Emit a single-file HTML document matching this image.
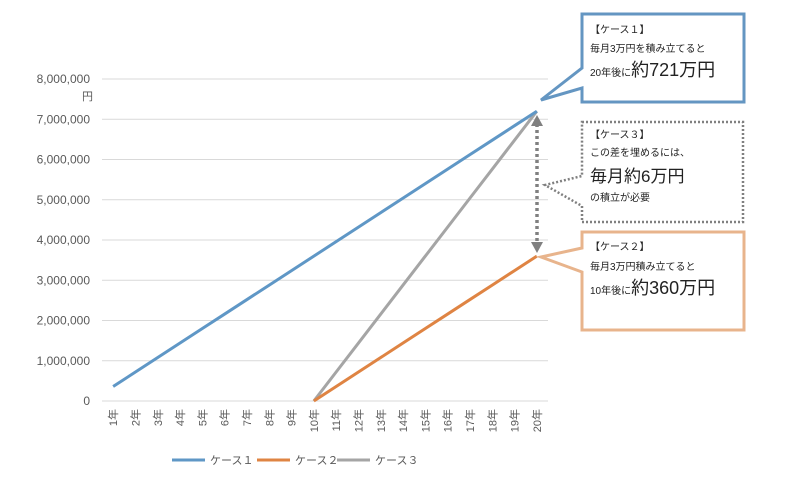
<!DOCTYPE html>
<html><head><meta charset="utf-8"><style>
body{margin:0;background:#fff;font-family:"Liberation Sans","Noto Sans CJK JP",sans-serif;}
svg text{font-family:"Liberation Sans","Noto Sans CJK JP",sans-serif;}
</style></head><body>
<svg id="chart" width="800" height="496" viewBox="0 0 800 496">
<g id="grid"></g>
<g id="yax"></g>
<g id="xax"></g>
<g id="series"></g>
<text x="93" y="100" font-size="11" fill="#595959" text-anchor="end">円</text>

<!-- dotted arrow -->
<g>
<line x1="537" y1="124" x2="537" y2="244" stroke="#808080" stroke-width="3.5" stroke-dasharray="3,3"/>
<polygon points="531,126 543,126 537,115" fill="#808080"/>
<polygon points="531,242 543,242 537,253" fill="#808080"/>
</g>

<!-- callout 1 -->
<g>
<path d="M582,14 H744 V102 H582 V88 L541,100 L582,68 Z" fill="#fff" stroke="#6496c2" stroke-width="3"/>
<text x="590" y="33" font-size="10" fill="#222">【ケース１】</text>
<text x="590" y="52" font-size="10" fill="#222">毎月3万円を積み立てると</text>
<text x="590" y="76" font-size="10" fill="#222">20年後に<tspan font-size="18">約721万円</tspan></text>
</g>
<!-- callout 3 -->
<g>
<path d="M582,122 H743 V222 H582 V206 L545,185 L582,176 Z" fill="#fff" stroke="#808080" stroke-width="2.5" stroke-dasharray="2,2"/>
<text x="590" y="138" font-size="10" fill="#222">【ケース３】</text>
<text x="590" y="156" font-size="10" fill="#222">この差を埋めるには、</text>
<text x="590" y="182" font-size="17" fill="#222">毎月約6万円</text>
<text x="590" y="201" font-size="10" fill="#222">の積立が必要</text>
</g>
<!-- callout 2 -->
<g>
<path d="M582,232 H744 V330 H582 V272 L541,257 L582,248 Z" fill="#fff" stroke="#e8b48c" stroke-width="3"/>
<text x="590" y="250" font-size="10" fill="#222">【ケース２】</text>
<text x="590" y="270" font-size="10" fill="#222">毎月3万円積み立てると</text>
<text x="590" y="294" font-size="10" fill="#222">10年後に<tspan font-size="18">約360万円</tspan></text>
</g>

<!-- legend -->
<g>
<g><line x1="172" y1="460" x2="205" y2="460" stroke="#5f97c6" stroke-width="3"/><text x="210" y="464" font-size="11" fill="#595959">ケース１</text></g>
<g><line x1="257" y1="460" x2="290" y2="460" stroke="#df8443" stroke-width="3"/><text x="295" y="464" font-size="11" fill="#595959">ケース２</text></g>
<g><line x1="337" y1="460" x2="370" y2="460" stroke="#a5a5a5" stroke-width="3"/><text x="375" y="464" font-size="11" fill="#595959">ケース３</text></g>
</g>
</svg>
<script>
const categories=["1年","2年","3年","4年","5年","6年","7年","8年","9年","10年","11年","12年","13年","14年","15年","16年","17年","18年","19年","20年"];
const case1=[360000,720000,1080000,1440000,1800000,2160000,2520000,2880000,3240000,3600000,3960000,4320000,4680000,5040000,5400000,5760000,6120000,6480000,6840000,7200000];
const case2=[null,null,null,null,null,null,null,null,null,0,360000,720000,1080000,1440000,1800000,2160000,2520000,2880000,3240000,3600000];
const case3=[null,null,null,null,null,null,null,null,null,0,720000,1440000,2160000,2880000,3600000,4320000,5040000,5760000,6480000,7200000];
const yTicks=[0,1000000,2000000,3000000,4000000,5000000,6000000,7000000,8000000];
const yTickLabels=["0","1,000,000","2,000,000","3,000,000","4,000,000","5,000,000","6,000,000","7,000,000","8,000,000"];
const NS="http://www.w3.org/2000/svg";
const X0=102,X1=548,Y0=401,Y1=79,YMAX=8000000;
const step=(X1-X0)/categories.length;
function xs(i){return X0+step*(i+0.5);}
function ys(v){return Y0-(Y0-Y1)*v/YMAX;}
function mk(t,a,p){const e=document.createElementNS(NS,t);for(const k in a)e.setAttribute(k,a[k]);p.appendChild(e);return e;}
const grid=document.getElementById('grid'),yax=document.getElementById('yax'),xax=document.getElementById('xax'),ser=document.getElementById('series');
yTicks.forEach((v,i)=>{
 const l=mk('line',{x1:X0,x2:X1,y1:ys(v),y2:ys(v),stroke:'#d9d9d9','stroke-width':1},grid);
 
 
 const t=mk('text',{x:90,y:ys(v)+4,'font-size':12,fill:'#595959','text-anchor':'end'},yax);
 t.textContent=yTickLabels[i];
 
 
});
categories.forEach((c,i)=>{
 const x=xs(i);
 const t=mk('text',{x:0,y:0,'font-size':11,fill:'#595959','text-anchor':'end',transform:`translate(${x+4},${Y0+8}) rotate(-90)`},xax);
 t.textContent=c;
 
 
});
function drawSeries(vals,color,name){
 let d='';let started=false;
 vals.forEach((v,i)=>{if(v===null)return;d+=(started?'L':'M')+xs(i)+','+ys(v);started=true;});
 const p=mk('path',{d:d,fill:'none',stroke:color,'stroke-width':3,'stroke-linejoin':'round'},ser);
 
 
}
drawSeries(case3,'#a5a5a5','line-case3');
drawSeries(case2,'#df8443','line-case2');
drawSeries(case1,'#5f97c6','line-case1');
</script>
</body></html>
